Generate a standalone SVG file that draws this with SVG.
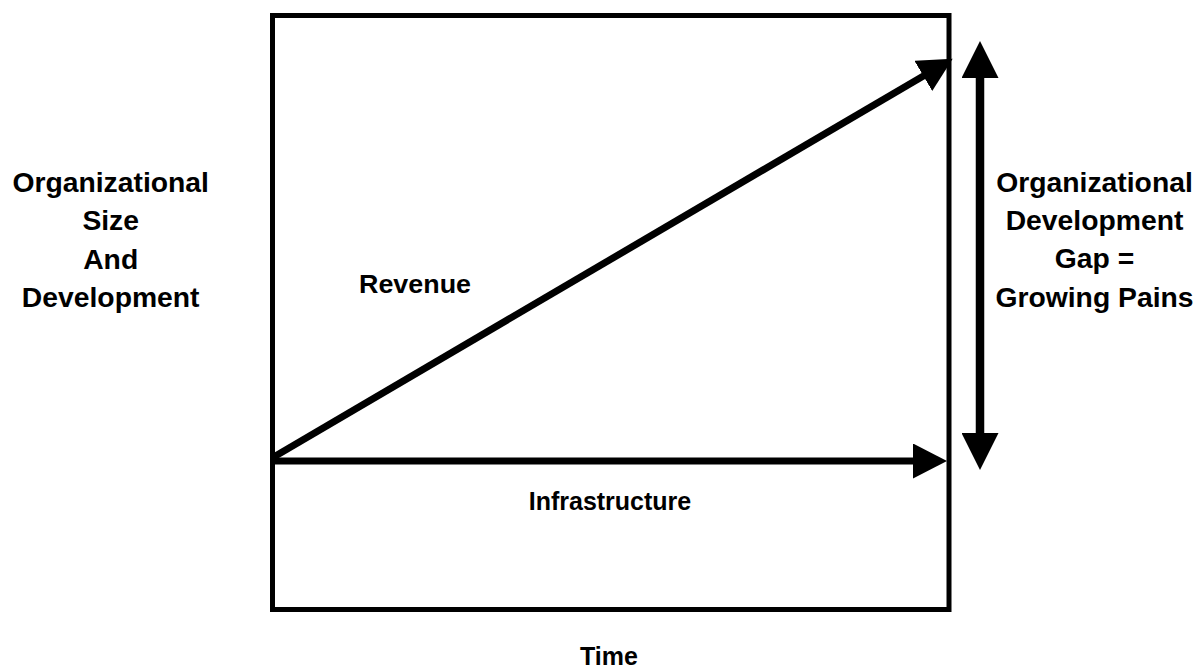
<svg xmlns="http://www.w3.org/2000/svg" width="1203" height="668" viewBox="0 0 1203 668">
  <style>
    .lbl { font-family: "Liberation Sans", Arial, sans-serif; font-weight: bold; fill: #000; }
    .big { font-size: 28.3px; text-anchor: middle; }
    .small { font-size: 25px; }
    .frame { fill: none; stroke: #000; stroke-width: 5; }
    .conn { fill: none; stroke: #000; }
  </style>
  <defs>
    <marker id="head" markerUnits="userSpaceOnUse" markerWidth="34" markerHeight="35" refX="4" refY="17.5" orient="auto" viewBox="0 0 34 35">
      <path d="M0,0 L34,17.5 L0,35 Z" fill="#000"/>
    </marker>
    <marker id="headBig" markerUnits="userSpaceOnUse" markerWidth="37" markerHeight="37" refX="4" refY="18.5" orient="auto-start-reverse" viewBox="0 0 37 37">
      <path d="M0,0 L37,18.5 L0,37 Z" fill="#000"/>
    </marker>
  </defs>

  <!-- chart frame -->
  <g id="frame">
    <rect class="frame" x="272.5" y="15.5" width="676.5" height="594"/>
  </g>

  <!-- connectors -->
  <g id="connectors">
    <line class="conn" stroke-width="7" x1="272" y1="458" x2="926.8" y2="73.9" marker-end="url(#head)"/>
    <line class="conn" stroke-width="7" x1="273" y1="461" x2="917" y2="461" marker-end="url(#head)"/>
    <line class="conn" stroke-width="8.5" x1="980" y1="74" x2="980" y2="437" marker-start="url(#headBig)" marker-end="url(#headBig)"/>
  </g>

  <!-- axis label (left) -->
  <g id="y-axis-label">
    <text class="lbl big" x="110.7" y="192">Organizational</text>
    <text class="lbl big" x="110.7" y="230.3">Size</text>
    <text class="lbl big" x="110.7" y="268.6">And</text>
    <text class="lbl big" x="110.7" y="307">Development</text>
  </g>

  <!-- gap label (right) -->
  <g id="gap-label">
    <text class="lbl big" x="1094.5" y="191.5">Organizational</text>
    <text class="lbl big" x="1094.5" y="229.8">Development</text>
    <text class="lbl big" x="1094.5" y="268.1">Gap =</text>
    <text class="lbl big" x="1094.5" y="306.7">Growing Pains</text>
  </g>

  <g id="revenue-label">
    <text class="lbl small" x="359" y="293" textLength="112" lengthAdjust="spacingAndGlyphs">Revenue</text>
  </g>

  <g id="infrastructure-label">
    <text class="lbl small" x="610" y="509.5" text-anchor="middle">Infrastructure</text>
  </g>

  <g id="x-axis-label">
    <text class="lbl small" x="609" y="665" text-anchor="middle">Time</text>
  </g>
</svg>
